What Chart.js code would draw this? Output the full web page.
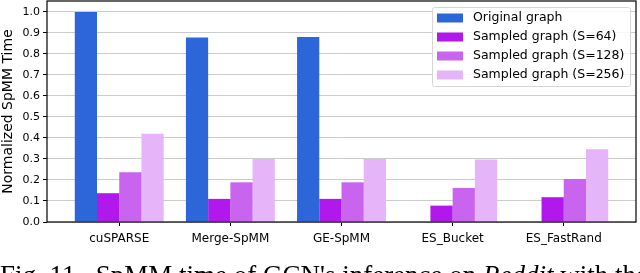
<!DOCTYPE html>
<html>
<head>
<meta charset="utf-8">
<script src="https://cdn.jsdelivr.net/npm/chart.js@4.4.0/dist/chart.umd.min.js"></script>
<style>
  html, body { margin: 0; padding: 0; background: #fff; }
  #wrap { position: relative; width: 640px; height: 273px; overflow: hidden; }
  #chart { position: absolute; left: 0; top: 0; }
  #caption {
    position: absolute; left: 0; top: 260px; white-space: nowrap;
    font-family: "Liberation Serif", serif; font-size: 27px; color: #000;
  }
</style>
</head>
<body>
<div id="wrap">
  <canvas id="chart" width="640" height="273"></canvas>
  <div id="caption">Fig. 11.&nbsp; SpMM time of GCN's inference on <i>Reddit</i> with the</div>
</div>
<script>
const categories = ['cuSPARSE', 'Merge-SpMM', 'GE-SpMM', 'ES_Bucket', 'ES_FastRand'];
const seriesNames = ['Original graph', 'Sampled graph (S=64)', 'Sampled graph (S=128)', 'Sampled graph (S=256)'];
const original = [1.0, 0.878, 0.881, null, null];
const sampled64 = [0.137, 0.11, 0.11, 0.078, 0.118];
const sampled128 = [0.237, 0.189, 0.189, 0.162, 0.205];
const sampled256 = [0.42, 0.30, 0.30, 0.298, 0.346];
const yTicks = [0, 0.1, 0.2, 0.3, 0.4, 0.5, 0.6, 0.7, 0.8, 0.9, 1.0];

const colors = ['#2d66d8', '#b118ec', '#c864ee', '#e6b4f8'];
const font = 'DejaVu Sans';

const allSeries = [original, sampled64, sampled128, sampled256];
const datasets = allSeries.map((vals, k) => ({
  label: seriesNames[k],
  data: vals.map((v, i) => ({ x: i, y: v })),
  backgroundColor: colors[k],
  borderWidth: 0,
  categoryPercentage: 0.8,
  barPercentage: 1.0,
}));

// legend box + frame drawn inside the plot like matplotlib
const framePlugin = {
  id: 'frame',
  afterDatasetsDraw(chart) {
    const { ctx, chartArea: a } = chart;
    ctx.save();
    ctx.strokeStyle = '#000';
    ctx.lineWidth = 1.2;
    ctx.strokeRect(a.left, a.top, a.right - a.left, a.bottom - a.top);

    // legend
    const x0 = 432, y0 = 7, w = 198, h = 79;
    ctx.fillStyle = 'rgba(255,255,255,0.85)';
    ctx.strokeStyle = '#d6d6d6';
    ctx.lineWidth = 1;
    ctx.beginPath();
    ctx.roundRect(x0 + 0.5, y0 + 0.5, w, h, 2);
    ctx.fill();
    ctx.stroke();
    ctx.font = '12.5px "' + font + '"';
    ctx.textBaseline = 'middle';
    chart.data.datasets.forEach((ds, k) => {
      const cy = y0 + 10.5 + k * 19;
      ctx.fillStyle = ds.backgroundColor;
      ctx.fillRect(x0 + 5, cy - 4, 26, 9);
      ctx.fillStyle = '#000';
      ctx.fillText(ds.label, x0 + 41, cy + 0.5);
    });
    ctx.restore();
  }
};

new Chart(document.getElementById('chart').getContext('2d'), {
  type: 'bar',
  data: { datasets },
  options: {
    responsive: false,
    animation: false,
    layout: { padding: { top: 1, right: 4, left: 0, bottom: 0 } },
    plugins: { legend: { display: false }, tooltip: { enabled: false } },
    scales: {
      x: {
        type: 'linear',
        min: -0.65,
        max: categories.length - 1 + 0.65,
        offset: false,
        afterBuildTicks(scale) { scale.ticks = categories.map((c, i) => ({ value: i })); },
        afterFit(scale) { scale.height = 51; scale.paddingLeft = 0; scale.paddingRight = 0; },
        grid: { display: true, drawOnChartArea: false, offset: false, tickLength: 4, tickColor: '#000' },
        border: { display: false },
        ticks: {
          color: '#000',
          font: { family: font, size: 12 },
          padding: 6,
          maxRotation: 0,
          autoSkip: false,
          callback: v => categories[v],
        },
      },
      y: {
        min: 0,
        max: 1.052,
        afterBuildTicks(scale) { scale.ticks = yTicks.map(v => ({ value: v })); },
        afterFit(scale) { scale.width = 47; scale.paddingTop = 0; scale.paddingBottom = 0; },
        grid: { color: '#cbcbcb', lineWidth: 1, tickLength: 4, tickColor: '#000' },
        border: { display: false },
        ticks: {
          color: '#000',
          font: { family: font, size: 11 },
          padding: 3,
          callback: v => v.toFixed(1),
        },
        title: {
          display: true,
          text: 'Normalized SpMM Time',
          color: '#000',
          font: { family: font, size: 14 },
          padding: { top: 0, bottom: 1 },
        },
      },
    },
  },
  plugins: [framePlugin],
});
</script>
</body>
</html>
